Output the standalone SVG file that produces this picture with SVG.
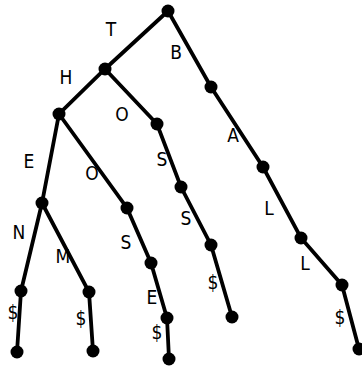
<svg xmlns="http://www.w3.org/2000/svg" width="362" height="369" viewBox="0 0 362 369">
<style>
.e{stroke:#000;stroke-width:3.8;stroke-linecap:round;fill:none}
.n{fill:#000}
text{font-family:"DejaVu Sans Condensed","DejaVu Sans","Liberation Sans",sans-serif;font-stretch:condensed;font-size:19px;fill:#000;text-anchor:middle;dominant-baseline:central}
</style>
<rect width="362" height="369" fill="#fff"/>
<g id="connectors">
<path class="e" d="M168,11 L105,69 L59,114 L42,203 L21,291 L17,352"/>
<path class="e" d="M42,203 L89,292 L93,351"/>
<path class="e" d="M59,114 L127,208 L151,263 L167,318 L169,359"/>
<path class="e" d="M105,69 L157,124 L181,187 L211,245 L232,317"/>
<path class="e" d="M168,11 L211,87 L263,167 L301,238 L342,285 L359,349"/>
</g>
<g id="labels">
<text x="111" y="29">T</text>
<text x="176" y="52">B</text>
<text x="66" y="77">H</text>
<text x="122" y="114">O</text>
<text x="29" y="161">E</text>
<text x="92" y="173">O</text>
<text x="162" y="159">S</text>
<text x="233" y="135">A</text>
<text x="186" y="218">S</text>
<text x="19" y="232">N</text>
<text x="63" y="256">M</text>
<text x="126" y="242">S</text>
<text x="269" y="208">L</text>
<text x="305" y="263">L</text>
<text x="152" y="297">E</text>
<text x="13" y="312">$</text>
<text x="81" y="318">$</text>
<text x="157" y="332">$</text>
<text x="213" y="282">$</text>
<text x="340" y="317">$</text>
</g>
<g id="root"><circle class="n" cx="168" cy="11" r="6.5"/></g>
<g id="n_T"><circle class="n" cx="105" cy="69" r="6.5"/></g>
<g id="n_B"><circle class="n" cx="211" cy="87" r="6.5"/></g>
<g id="n_TH"><circle class="n" cx="59" cy="114" r="6.5"/></g>
<g id="n_TO"><circle class="n" cx="157" cy="124" r="6.5"/></g>
<g id="n_BA"><circle class="n" cx="263" cy="167" r="6.5"/></g>
<g id="n_TOS"><circle class="n" cx="181" cy="187" r="6.5"/></g>
<g id="n_THE"><circle class="n" cx="42" cy="203" r="6.5"/></g>
<g id="n_THO"><circle class="n" cx="127" cy="208" r="6.5"/></g>
<g id="n_BAL"><circle class="n" cx="301" cy="238" r="6.5"/></g>
<g id="n_TOSS"><circle class="n" cx="211" cy="245" r="6.5"/></g>
<g id="n_THOS"><circle class="n" cx="151" cy="263" r="6.5"/></g>
<g id="n_BALL"><circle class="n" cx="342" cy="285" r="6.5"/></g>
<g id="n_THEN"><circle class="n" cx="21" cy="291" r="6.5"/></g>
<g id="n_THEM"><circle class="n" cx="89" cy="292" r="6.5"/></g>
<g id="n_THOSE"><circle class="n" cx="167" cy="318" r="6.5"/></g>
<g id="leaf_THEN"><circle class="n" cx="17" cy="352" r="6.5"/></g>
<g id="leaf_THEM"><circle class="n" cx="93" cy="351" r="6.5"/></g>
<g id="leaf_THOSE"><circle class="n" cx="169" cy="359" r="6.5"/></g>
<g id="leaf_TOSS"><circle class="n" cx="232" cy="317" r="6.5"/></g>
<g id="leaf_BALL"><circle class="n" cx="359" cy="349" r="6.5"/></g>
</svg>
